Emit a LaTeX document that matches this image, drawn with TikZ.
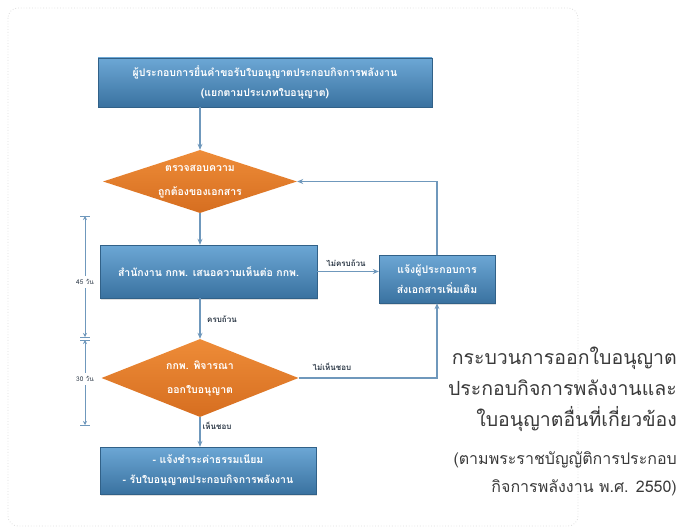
\documentclass[tikz,border=0pt]{standalone}
\usepackage{fontspec}
\setmainfont[Script=Thai]{Loma}
\usetikzlibrary{shapes.geometric,arrows.meta,shadows}
\definecolor{bluetop}{HTML}{6CA7D5}
\definecolor{bluebot}{HTML}{3A72A0}
\definecolor{ortop}{HTML}{EE8C38}
\definecolor{orbot}{HTML}{D66E20}
\definecolor{conn}{HTML}{6F98BC}
\definecolor{framec}{HTML}{DCDCDC}
\definecolor{ttl}{HTML}{3A3A3A}
\definecolor{lbl}{HTML}{2E3A48}
\tikzset{
  bluebox/.style={rectangle, top color=bluetop, bottom color=bluebot, draw=bluebot!85!black, line width=0.4pt,
    text=white, font=\fontsize{10.5}{20}\selectfont\bfseries, align=center, inner sep=0pt,
    drop shadow={opacity=0.25, shadow xshift=1pt, shadow yshift=-1.5pt}},
  orshape/.style={diamond, top color=ortop, bottom color=orbot, draw=none, inner sep=0pt},
  ortext/.style={text=white, font=\fontsize{10.5}{24}\selectfont\bfseries, align=center},
  conn/.style={draw=conn, line width=1.3pt},
  arr/.style={conn, -{Stealth[length=6pt,width=5pt]}},
  lab/.style={text=lbl, font=\fontsize{8}{9}\selectfont\bfseries},
  dimlab/.style={text=lbl, font=\fontsize{6.5}{8}\selectfont},
  dimline/.style={draw=conn, line width=0.8pt},
  dimarr/.style={dimline, -{Stealth[length=4pt,width=4pt]}},
}
\begin{document}
\begin{tikzpicture}[x=1pt,y=-1pt]
\useasboundingbox (0,0) rectangle (678,532);
\draw[framec, dotted, line width=0.8pt, rounded corners=10pt] (8,8) rectangle (578,526);

\node[bluebox, minimum width=334pt, minimum height=49pt] (top) at (265,82.5)
  {ผู้ประกอบการยื่นคำขอรับใบอนุญาตประกอบกิจการพลังงาน\\(แยกตามประเภทใบอนุญาต)};
\node[orshape, minimum width=194pt, minimum height=63pt] (d1) at (200,181.5) {};
\node[ortext] (d1t) at (200,182) {ตรวจสอบความ\\ถูกต้องของเอกสาร};
\node[bluebox, minimum width=217pt, minimum height=53pt] (b2) at (208.5,271.5)
  {สำนักงาน กกพ. เสนอความเห็นต่อ กกพ.};
\node[bluebox, minimum width=116pt, minimum height=48pt] (rb) at (437,279)
  {แจ้งผู้ประกอบการ\\ส่งเอกสารเพิ่มเติม};
\node[orshape, minimum width=197pt, minimum height=78pt] (d2) at (200,378) {};
\node[ortext] (d2t) at (200,379) {กกพ. พิจารณา\\ออกใบอนุญาต};
\node[bluebox, minimum width=216pt, minimum height=47pt] (b3) at (208,470.5)
  {- แจ้งชำระค่าธรรมเนียม\\- รับใบอนุญาตประกอบกิจการพลังงาน};

% connectors
\draw[arr] (top.south -| d1.north) -- (d1.north);
\draw[arr] (d1.south) -- (d1.south |- b2.north);
\draw[arr] (b2.east) -- (b2.east -| rb.west);
\draw[arr] (rb.north) |- (d1.east);
\draw[arr] (d1.south |- b2.south) -- (d2.north);
\draw[arr] (d2.east) -| (rb.south);
\draw[arr] (d2.south) -- (d2.south |- b3.north);

\node[lab] (l1) at (346,263) {ไม่ครบถ้วน};
\node[lab] (l2) at (222,319) {ครบถ้วน};
\node[lab] (l3) at (332,367) {ไม่เห็นชอบ};
\node[lab] (l4) at (217,426) {เห็นชอบ};

% duration markers
\coordinate (t0) at (85,216);
\coordinate (t1) at (85,337);
\coordinate (t2) at (85,340);
\coordinate (t3) at (85,425);
\node[dimlab] (m1) at (85,282) {45 วัน};
\node[dimlab] (m2) at (85,379) {30 วัน};
\draw[dimline] ([xshift=-5pt]t0) -- ([xshift=5pt]t0);
\draw[dimline] ([xshift=-5pt]t1) -- ([xshift=5pt]t1);
\draw[dimline] ([xshift=-5pt]t2) -- ([xshift=5pt]t2);
\draw[dimline] ([xshift=-5pt]t3) -- ([xshift=5pt]t3);
\draw[dimarr] (m1.north) -- (t0);
\draw[dimarr] (m1.south) -- (t1);
\draw[dimarr] (m2.north) -- (t2);
\draw[dimarr] (m2.south) -- (t3);

% title
\node[anchor=north east, align=right, text=ttl, font=\fontsize{19.5}{31}\selectfont, inner sep=0pt] (title) at (677,347)
  {กระบวนการออกใบอนุญาต\\ประกอบกิจการพลังงานและ\\ใบอนุญาตอื่นที่เกี่ยวข้อง};
\node[anchor=north east, align=right, text=ttl, font=\fontsize{16}{28}\selectfont, inner sep=0pt] (sub) at (677,451)
  {(ตามพระราชบัญญัติการประกอบ\\กิจการพลังงาน พ.ศ. 2550)};
\end{tikzpicture}
\end{document}
